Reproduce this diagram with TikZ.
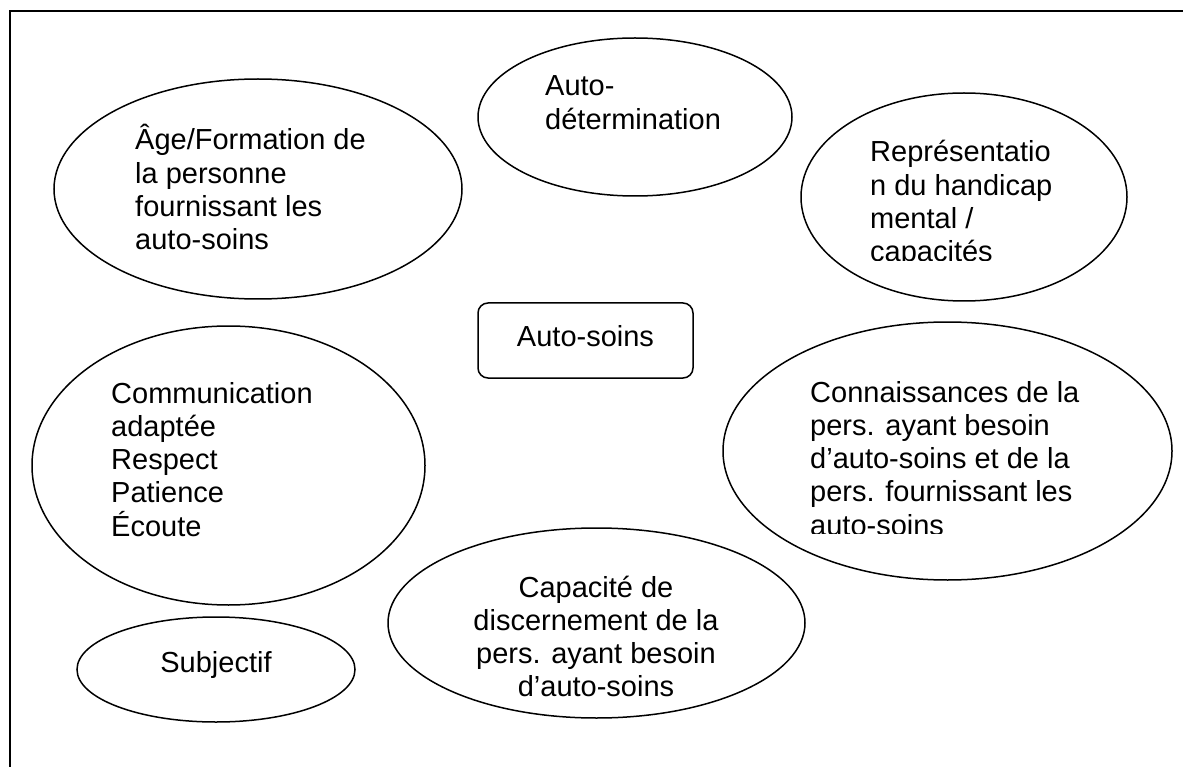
\documentclass[tikz,border=0pt]{standalone}
\usepackage{fontspec}
\setmainfont{Liberation Sans}
\usetikzlibrary{shapes.geometric}
\newcommand{\leftlines}[1]{\vtop{\baselineskip=33.3pt\lineskiplimit=-100pt\lineskip=0pt\halign{##\unskip\hfil\cr#1\crcr}}}
\newcommand{\centerlines}[1]{\vtop{\baselineskip=33.3pt\lineskiplimit=-100pt\lineskip=0pt\halign{\hfil##\unskip\hfil\cr#1\crcr}}}
\begin{document}
\begin{tikzpicture}[x=1pt,y=-1pt,
  ell/.style={ellipse, draw, line width=1.5pt, inner sep=0pt},
  txt/.style={inner sep=0pt, font=\fontsize{29}{33.3}\selectfont},
  boxnode/.style={rectangle, draw, rounded corners=10pt, line width=1.5pt, inner sep=0pt,
     font=\fontsize{29}{33.3}\selectfont, text height=21pt, text depth=10pt},
  frame/.style={line width=2pt}]
\useasboundingbox (0,0) rectangle (1183,767);
% outer frame (top and left edges only)
\draw[frame] (10,767) -- (10,11) -- (1183,11);

% ellipses
\node[ell, minimum width=408pt, minimum height=220pt] (age) at (258,189) {};
\node[ell, minimum width=314pt, minimum height=158pt] (autodet) at (635,117) {};
\node[ell, minimum width=326pt, minimum height=208pt] (repr) at (964,197) {};
\node[ell, minimum width=449pt, minimum height=258pt] (conn) at (947.5,451) {};
\node[ell, minimum width=393pt, minimum height=279pt] (comm) at (228.5,465.5) {};
\node[ell, minimum width=417pt, minimum height=190pt] (capa) at (596.5,623) {};
\node[ell, minimum width=278pt, minimum height=105pt] (subj) at (216,669.5) {};

% central box
\node[boxnode, minimum width=215pt, minimum height=75pt] (autosoins) at (585.5,340.5) {Auto-soins};

% texts
\node[txt, anchor=base west] (agetxt) at (135,150)
  {\leftlines{Âge/Formation de\cr la personne\cr fournissant les\cr auto-soins}};
\node[txt, anchor=base west] (autodettxt) at (545,96)
  {\leftlines{Auto-\cr détermination}};
\begin{scope}
  \clip (860,120) rectangle (1125,260.5);
  \node[txt, anchor=base west] (reprtxt) at (870,162)
    {\leftlines{Représentatio\cr n du handicap\cr mental /\cr capacités}};
\end{scope}
\begin{scope}
  \clip (800,370) rectangle (1170,533.5);
  \node[txt, anchor=base west] (conntxt) at (810,402)
    {\leftlines{Connaissances de la\cr pers. ayant besoin\cr d’auto-soins et de la\cr pers. fournissant les\cr auto-soins}};
\end{scope}
\node[txt, anchor=base west] (commtxt) at (111,403)
  {\leftlines{Communication\cr adaptée\cr Respect\cr Patience\cr Écoute}};
\node[txt, anchor=base] (capatxt) at (596,597)
  {\centerlines{Capacité de\cr discernement de la\cr pers. ayant besoin\cr d’auto-soins}};
\node[txt, anchor=base] (subjtxt) at (216,672) {Subjectif};
\end{tikzpicture}
\end{document}
